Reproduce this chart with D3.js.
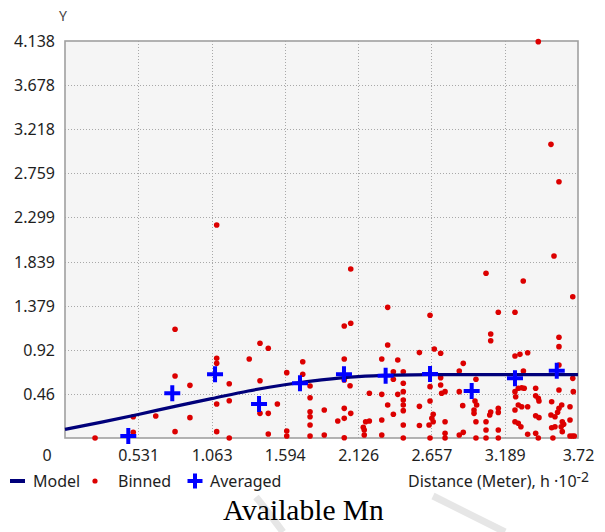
<!DOCTYPE html>
<html>
<head>
<meta charset="utf-8">
<script src="https://cdn.jsdelivr.net/npm/d3@7"></script>
<style>
  html, body { margin: 0; padding: 0; background: #ffffff; }
  svg { display: block; }
</style>
</head>
<body>
<svg id="chart" width="605" height="532"></svg>
<script>
// ---- data ----
const xTickLabels = ["0.531", "1.063", "1.594", "2.126", "2.657", "3.189", "3.72"];
const yTickLabels = ["0.46", "0.92", "1.379", "1.839", "2.299", "2.759", "3.218", "3.678", "4.138"];
const xMax = 3.72;
const yMax = 4.138;

// Model curve (distance, semivariance)
const modelH = [0, 0.266, 0.531, 0.797, 1.063, 1.329, 1.594, 1.86, 2.126, 2.39, 2.657, 3.0, 3.72];
const modelY = [0.09, 0.165, 0.245, 0.33, 0.41, 0.49, 0.555, 0.605, 0.64, 0.655, 0.66, 0.66, 0.66];

// Averaged points
const avgH = [0.459, 0.778, 1.088, 1.407, 1.704, 2.023, 2.325, 2.647, 2.949, 3.263, 3.566];
const avgY = [0.02, 0.466, 0.664, 0.354, 0.57, 0.664, 0.65, 0.667, 0.49, 0.622, 0.70];

// Binned points
const binnedH = [
  0.218, 0.495, 0.495, 0.658, 0.798, 0.798, 0.798, 0.906, 0.906, 1.100,
  1.100, 1.100, 1.100, 1.100, 1.191, 1.191, 1.191, 1.336, 1.414, 1.474,
  1.414, 1.414, 1.474, 1.474, 1.540, 1.608, 1.608, 1.608, 1.724, 1.724,
  1.777, 1.777, 1.777, 1.777, 1.777, 1.777, 1.880, 1.880, 1.978, 2.025,
  2.072, 2.072, 2.025, 2.025, 2.067, 2.025, 2.072, 2.025, 2.025, 2.163,
  2.170, 2.170, 2.180, 2.207, 2.207, 2.297, 2.297, 2.297, 2.297, 2.340,
  2.340, 2.340, 2.381, 2.381, 2.381, 2.413, 2.413, 2.453, 2.453, 2.453,
  2.453, 2.453, 2.453, 2.453, 2.453, 2.570, 2.570, 2.570, 2.647, 2.647,
  2.647, 2.647, 2.678, 2.724, 2.724, 2.724, 2.731, 2.756, 2.670, 2.660,
  2.670, 2.640, 2.756, 2.756, 2.756, 2.859, 2.888, 2.859, 2.884, 2.859,
  2.888, 2.980, 2.973, 2.985, 2.966, 2.966, 2.980, 2.980, 3.053, 3.053,
  3.053, 3.053, 3.087, 3.087, 3.087, 3.080, 3.142, 3.142, 3.142, 3.142,
  3.142, 3.263, 3.263, 3.299, 3.355, 3.324, 3.287, 3.312, 3.330, 3.263,
  3.268, 3.287, 3.312, 3.355, 3.263, 3.263, 3.287, 3.306, 3.355, 3.413,
  3.413, 3.432, 3.437, 3.413, 3.437, 3.413, 3.432, 3.432, 3.323, 3.524,
  3.582, 3.546, 3.682, 3.582, 3.582, 3.582, 3.582, 3.529, 3.602, 3.582,
  3.572, 3.662, 3.686, 3.682, 3.524, 3.553, 3.606, 3.616, 3.598, 3.662,
  3.529, 3.553, 3.606, 3.662, 3.679, 3.693, 3.538
];
const binnedY = [
  0.000, 0.222, 0.060, 0.229, 1.133, 0.646, 0.066, 0.549, 0.212, 2.220,
  0.831, 0.778, 0.354, 0.066, 0.566, 0.389, 0.000, 0.823, 0.987, 0.935,
  0.597, 0.257, 0.257, 0.042, 0.354, 0.681, 0.073, 0.021, 0.795, 0.664,
  0.542, 0.420, 0.274, 0.222, 0.136, 0.021, 0.292, 0.031, 0.177, 1.167,
  1.196, 1.762, 0.823, 0.605, 0.545, 0.309, 0.257, 0.205, 0.003, 0.112,
  0.083, 0.031, 0.170, 0.466, 0.177, 0.823, 0.455, 0.188, 0.031, 1.362,
  0.969, 0.344, 0.691, 0.612, 0.247, 0.813, 0.455, 0.691, 0.570, 0.483,
  0.396, 0.344, 0.285, 0.136, 0.000, 0.890, 0.330, 0.130, 1.279, 0.535,
  0.386, 0.000, 0.928, 0.883, 0.629, 0.552, 0.466, 0.483, 0.247, 0.205,
  0.170, 0.136, 0.170, 0.049, 0.000, 0.698, 0.778, 0.483, 0.337, 0.031,
  0.059, 0.612, 0.386, 0.344, 0.292, 0.257, 0.170, 0.000, 1.717, 0.170,
  0.083, 0.000, 1.084, 1.014, 0.270, 0.240, 1.310, 0.309, 0.267, 0.083,
  0.000, 1.310, 0.855, 0.872, 0.889, 0.698, 0.518, 0.523, 0.518, 0.483,
  0.430, 0.344, 0.326, 0.326, 0.292, 0.170, 0.153, 0.118, 0.039, 0.518,
  0.441, 0.414, 0.386, 0.232, 0.212, 0.049, 0.000, 4.131, 1.636, 3.061,
  2.671, 1.897, 1.473, 1.050, 0.952, 0.761, 0.500, 0.378, 0.344, 0.310,
  0.268, 0.326, 0.483, 0.622, 0.240, 0.222, 0.170, 0.143, 0.118, 0.188,
  0.107, 0.118, 0.066, 0.021, 0.021, 0.021, 0.000
];

// ---- drawing ----
const svg = d3.select("#chart");
const font = "'Noto Sans', 'Liberation Sans', Arial, sans-serif";
const textColor = "#1e1e1e";

const plot = { left: 65, right: 578, top: 41, bottom: 438 };
const x = d3.scaleLinear().domain([0, xMax]).range([plot.left, plot.right]);
const y = d3.scaleLinear().domain([0, yMax]).range([plot.bottom, plot.top]);

const xTicks = xTickLabels.map(Number);
const yTicks = yTickLabels.map(Number);

// plot background
svg.append("rect")
  .attr("x", plot.left).attr("y", plot.top)
  .attr("width", plot.right - plot.left).attr("height", plot.bottom - plot.top)
  .attr("fill", "#f5f5f5");

// grid
const grid = svg.append("g").attr("stroke", "#a8a8a8").attr("stroke-width", 1)
  .attr("stroke-dasharray", "1,2").attr("shape-rendering", "crispEdges");
grid.selectAll("line.v").data(xTicks.slice(0, -1)).join("line")
  .attr("x1", d => Math.round(x(d)) + 0.5).attr("x2", d => Math.round(x(d)) + 0.5)
  .attr("y1", plot.top).attr("y2", plot.bottom);
grid.selectAll("line.h").data(yTicks.slice(0, -1)).join("line")
  .attr("y1", d => Math.round(y(d)) + 0.5).attr("y2", d => Math.round(y(d)) + 0.5)
  .attr("x1", plot.left).attr("x2", plot.right);

// border
svg.append("rect")
  .attr("x", plot.left).attr("y", plot.top)
  .attr("width", plot.right - plot.left).attr("height", plot.bottom - plot.top)
  .attr("fill", "none").attr("stroke", "#a0a0a0").attr("stroke-width", 1.6);

// axes (labels only; lines hidden)
const xAxis = d3.axisBottom(x).tickValues(xTicks).tickSize(0)
  .tickFormat((d, i) => xTickLabels[i]).tickPadding(0);
const gx = svg.append("g").attr("transform", `translate(0,${plot.bottom})`).call(xAxis);
gx.select(".domain").remove();
gx.selectAll("text").attr("font-family", font).attr("font-size", 16)
  .attr("fill", textColor).attr("dy", null).attr("y", 23);

const yAxis = d3.axisLeft(y).tickValues(yTicks).tickSize(0)
  .tickFormat((d, i) => yTickLabels[i]).tickPadding(10);
const gy = svg.append("g").attr("transform", `translate(${plot.left},0)`).call(yAxis);
gy.select(".domain").remove();
gy.selectAll("text").attr("font-family", font).attr("font-size", 16)
  .attr("fill", textColor).attr("dy", "0.34em");

// origin label
svg.append("text").attr("x", 47).attr("y", 461).attr("text-anchor", "middle")
  .attr("font-family", font).attr("font-size", 16).attr("fill", textColor).text("0");

// Y title
svg.append("text").attr("x", 63).attr("y", 21).attr("text-anchor", "middle")
  .attr("font-family", font).attr("font-size", 14).attr("fill", "#444").text("Y");

// binned points
const red = "#dc0000";
svg.append("g").selectAll("circle").data(d3.range(binnedH.length)).join("circle")
  .attr("cx", i => x(binnedH[i])).attr("cy", i => y(binnedY[i]))
  .attr("r", 2.8).attr("fill", red);

// model line
const navy = "#00007a";
const line = d3.line().x(i => x(modelH[i])).y(i => y(modelY[i])).curve(d3.curveMonotoneX);
svg.append("path").datum(d3.range(modelH.length)).attr("d", line)
  .attr("fill", "none").attr("stroke", navy).attr("stroke-width", 3.2);

// averaged points
const blue = "#0000ff";
function plusPath(cx, cy, r) {
  const p = d3.path();
  p.moveTo(cx - r, cy); p.lineTo(cx + r, cy);
  p.moveTo(cx, cy - r); p.lineTo(cx, cy + r);
  return p.toString();
}
svg.append("g").selectAll("path").data(d3.range(avgH.length)).join("path")
  .attr("d", i => plusPath(x(avgH[i]), y(avgY[i]), 8))
  .attr("stroke", blue).attr("stroke-width", 4).attr("fill", "none");

// legend
const ly = 481;
svg.append("line").attr("x1", 10).attr("x2", 25).attr("y1", ly).attr("y2", ly)
  .attr("stroke", navy).attr("stroke-width", 4);
svg.append("text").attr("x", 33).attr("y", 487).attr("font-family", font)
  .attr("font-size", 16).attr("fill", textColor).text("Model");
svg.append("circle").attr("cx", 95).attr("cy", ly).attr("r", 2.6).attr("fill", red);
svg.append("text").attr("x", 118).attr("y", 487).attr("font-family", font)
  .attr("font-size", 16).attr("fill", textColor).text("Binned");
svg.append("path").attr("d", plusPath(195, ly, 7.5))
  .attr("stroke", blue).attr("stroke-width", 4).attr("fill", "none");
svg.append("text").attr("x", 210).attr("y", 487).attr("font-family", font)
  .attr("font-size", 16).attr("fill", textColor).text("Averaged");

const dist = svg.append("text").attr("x", 408).attr("y", 487).attr("font-family", font)
  .attr("font-size", 16).attr("fill", textColor);
dist.append("tspan").text("Distance (Meter), h \u00B710");
dist.append("tspan").attr("dy", -5).attr("font-size", 14).text("-2");

// faint watermark strokes
svg.append("path").attr("d", "M433,496 L505,532")
  .attr("stroke", "#e6e6e6").attr("stroke-width", 7).attr("fill", "none");
svg.append("path").attr("d", "M256,497 Q268,512 283,532")
  .attr("stroke", "#e6e6e6").attr("stroke-width", 7).attr("fill", "none");

// title
svg.append("text").attr("x", 223).attr("y", 520)
  .attr("font-family", "'Liberation Serif', 'Times New Roman', serif")
  .attr("font-size", 29.5).attr("fill", "#000").text("Available Mn");
</script>
</body>
</html>
